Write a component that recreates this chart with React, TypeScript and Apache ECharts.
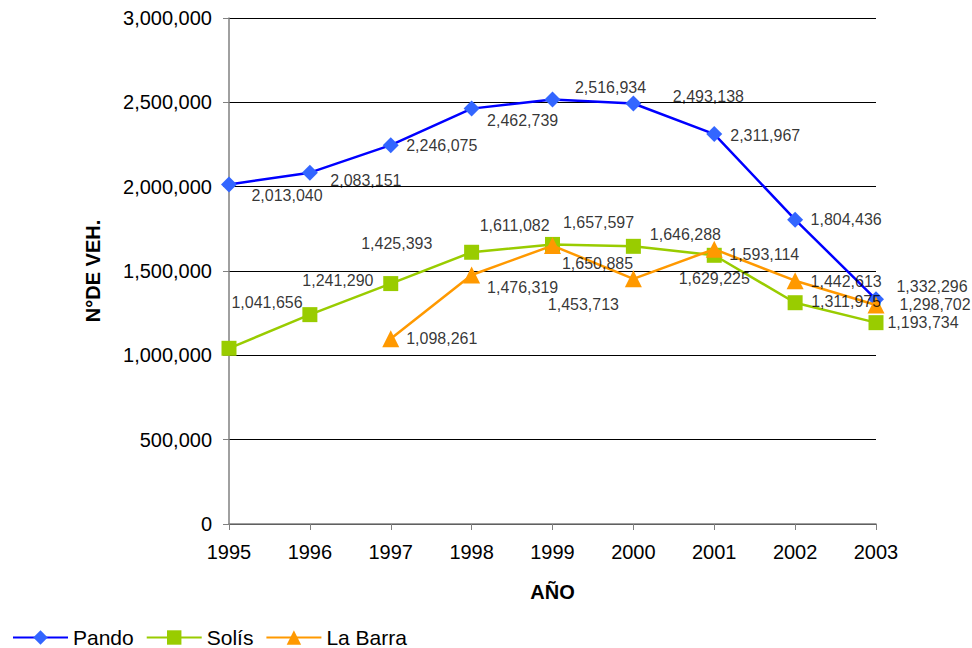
import React, { useEffect, useRef } from "react";
import * as echarts from "echarts";

const years = ["1995", "1996", "1997", "1998", "1999", "2000", "2001", "2002", "2003"];
const pando = [2013040, 2083151, 2246075, 2462739, 2516934, 2493138, 2311967, 1804436, 1332296];
const solis = [1041656, 1241290, 1425393, 1611082, 1657597, 1646288, 1593114, 1311975, 1193734];
const laBarra = [null, null, 1098261, 1476319, 1650885, 1453713, 1629225, 1442613, 1298702];

// label offsets (px) relative to each point, mimicking the original label placement
const pandoOffsets = [[58, 11], [56, 8], [51, 0], [51, 12], [58, -12], [75, -7], [51, 1], [51, 0], [56, -13]];
const solisOffsets = [[38, -46], [28, -34], [6, -40], [43, -27], [46, -22], [52, -12], [50, -1], [51, -1], [47, 0]];
const laBarraOffsets = [[0, 0], [0, 0], [51, 0], [51, 13], [45, 18], [-50, 26], [0, 29], [51, 1], [59, 0]];

const fmt = (v: number) => v.toLocaleString("en-US");
const FONT = "Liberation Sans, Arial, sans-serif";

function labelData(values: (number | null)[], offsets: number[][]) {
  return values
    .map((v, i) =>
      v === null
        ? null
        : {
            value: [i, v],
            label: {
              show: true,
              position: "inside",
              offset: offsets[i],
              color: "#000",
              fontSize: 16,
              fontFamily: FONT,
              textBorderWidth: 0,
            },
          }
    )
    .filter((d) => d !== null);
}

export default function App() {
  const ref = useRef<HTMLDivElement>(null);
  useEffect(() => {
    if (!ref.current) return;
    const chart = echarts.init(ref.current, undefined, { renderer: "svg" });
    const labelSeries = (name: string, values: (number | null)[], offsets: number[][]) => ({
      name: name + "-labels",
      type: "scatter",
      data: labelData(values, offsets),
      symbol: "circle",
      symbolSize: 1,
      silent: true,
      z: 10,
      itemStyle: { color: "rgba(0,0,0,0)" },
      label: {
        show: true,
        position: "inside",
        color: "#000",
        fontSize: 16,
        fontFamily: FONT,
        textBorderWidth: 0,
        formatter: (p: any) => fmt(p.value[1]),
      },
    });
    chart.setOption({
      animation: false,
      backgroundColor: "#fff",
      textStyle: { fontFamily: FONT },
      grid: { left: 229, right: 96, top: 18, bottom: 124 },
      legend: {
        left: 7,
        top: 622,
        itemWidth: 55,
        itemHeight: 18,
        itemGap: 12,
        textStyle: { fontSize: 21, color: "#000", fontFamily: FONT },
        data: ["Pando", "Solís", "La Barra"],
      },
      xAxis: {
        type: "category",
        data: years,
        boundaryGap: false,
        name: "AÑO",
        nameLocation: "middle",
        nameGap: 58,
        nameTextStyle: { fontSize: 20, fontWeight: "bold", color: "#000", fontFamily: FONT },
        axisLine: { lineStyle: { color: "#808080", width: 1.5 } },
        axisTick: { show: true, alignWithLabel: true, length: 6, lineStyle: { color: "#808080" } },
        axisLabel: { fontSize: 20, color: "#000", margin: 18, fontFamily: FONT },
        splitLine: { show: false },
      },
      yAxis: {
        type: "value",
        min: 0,
        max: 3000000,
        interval: 500000,
        name: "N°DE VEH.",
        nameLocation: "middle",
        nameGap: 126,
        nameTextStyle: { fontSize: 20, fontWeight: "bold", color: "#000", fontFamily: FONT },
        axisLine: { show: true, lineStyle: { color: "#808080", width: 1.5 } },
        axisTick: { show: true, length: 6, lineStyle: { color: "#808080" } },
        axisLabel: { fontSize: 20, color: "#000", margin: 17, fontFamily: FONT, formatter: (v: number) => fmt(v) },
        splitLine: { show: true, lineStyle: { color: "#000", width: 1 } },
      },
      series: [
        {
          name: "Pando",
          type: "line",
          data: pando,
          symbol: "diamond",
          symbolSize: 16,
          itemStyle: { color: "#3366FF" },
          lineStyle: { color: "#0000FF", width: 2.5 },
          z: 3,
        },
        {
          name: "Solís",
          type: "line",
          data: solis,
          symbol: "rect",
          symbolSize: 15,
          itemStyle: { color: "#99CC00" },
          lineStyle: { color: "#99CC00", width: 2.5 },
          z: 2,
        },
        {
          name: "La Barra",
          type: "line",
          data: laBarra,
          symbol: "triangle",
          symbolSize: 17,
          itemStyle: { color: "#FF9900" },
          lineStyle: { color: "#FF9900", width: 2.5 },
          connectNulls: false,
          z: 4,
        },
        labelSeries("Pando", pando, pandoOffsets),
        labelSeries("Solís", solis, solisOffsets),
        labelSeries("La Barra", laBarra, laBarraOffsets),
      ],
    });
    return () => chart.dispose();
  }, []);
  return (
    <div
      ref={ref}
      style={{ position: "fixed", left: 0, top: 0, width: 972, height: 648 }}
    />
  );
}
